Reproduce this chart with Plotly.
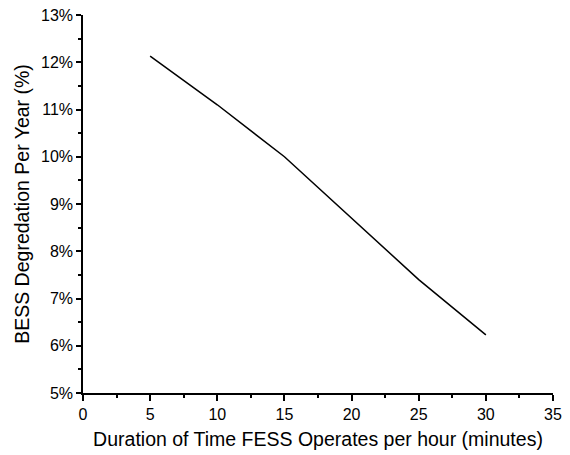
import plotly.graph_objects as go

minutes = [5, 10, 15, 20, 25, 30]
degradation = [12.13, 11.1, 10.0, 8.7, 7.4, 6.23]
x_ticks = [0, 5, 10, 15, 20, 25, 30, 35]
y_ticks = [5, 6, 7, 8, 9, 10, 11, 12, 13]
y_labels = [f"{v}%" for v in y_ticks]

fig = go.Figure()
fig.add_trace(go.Scatter(x=minutes, y=degradation, mode="lines",
                         line=dict(color="black", width=1.5), showlegend=False))

font = "Arial, Liberation Sans, sans-serif"
fig.update_layout(
    width=570, height=455,
    margin=dict(l=83, r=17, t=15, b=62),
    plot_bgcolor="white", paper_bgcolor="white",
    font=dict(family=font, color="black"),
)
fig.update_xaxes(
    range=[0, 35], tickvals=x_ticks, showgrid=False, zeroline=False,
    showline=True, linecolor="black", linewidth=1.5, automargin=False,
    ticks="outside", ticklen=6, tickwidth=1.5, tickcolor="black",
    tickfont=dict(size=16, family=font),
    minor=dict(ticks="outside", ticklen=3, tickwidth=1.5, dtick=2.5, tickcolor="black"),
    title=dict(text="Duration of Time FESS Operates per hour (minutes)", font=dict(size=19.5, family=font), standoff=10),
)
fig.update_yaxes(
    range=[5, 13], tickvals=y_ticks, ticktext=y_labels, showgrid=False, zeroline=False,
    showline=True, linecolor="black", linewidth=1.5, automargin=False,
    ticks="outside", ticklen=5, tickwidth=1.5, tickcolor="black",
    tickfont=dict(size=16, family=font),
    minor=dict(ticks="outside", ticklen=3, tickwidth=1.5, dtick=0.5, tickcolor="black"),
    title=dict(text="BESS Degredation Per Year (%)", font=dict(size=19.5, family=font), standoff=6),
)
fig.write_html("out.html")
